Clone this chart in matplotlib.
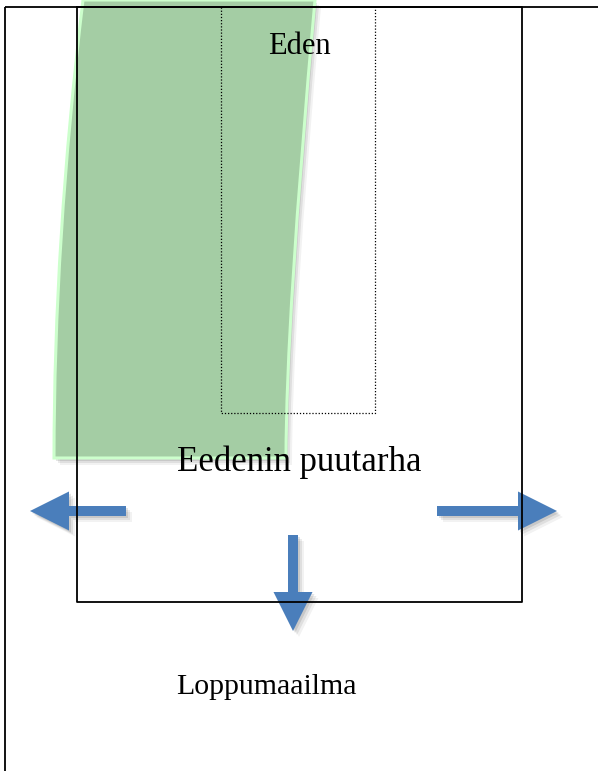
import matplotlib.pyplot as plt
from matplotlib.patches import PathPatch, FancyArrow
from matplotlib.path import Path

# labels of the diagram
labels = ['Eden', 'Eedenin puutarha', 'Loppumaailma']

# green band: top and bottom corners plus curve control points (pixel units)
band_top = [(83, 0), (315, 0)]
band_bottom = [(54, 458), (286, 458)]
band_ctrl = [(54, 240), (286, 320)]

# arrows: tail x, tail y, dx, dy
arrows = [
    (126, 511, -96, 0),
    (437, 511, 120, 0),
    (293, 535, 0, 96),
]

W, H = 598, 771
fig = plt.figure(figsize=(W / 100, H / 100), dpi=100)
ax = fig.add_axes([0, 0, 1, 1])
ax.set_xlim(0, W)
ax.set_ylim(H, 0)
ax.axis('off')


def band_path(dx=0, dy=0):
    (lx0, ly0), (rx0, ry0) = band_top
    (lx1, ly1), (rx1, ry1) = band_bottom
    (lcx, lcy), (rcx, rcy) = band_ctrl
    verts = [(lx0, ly0), (lcx, lcy), (lx1, ly1), (rx1, ry1),
             (rcx, rcy), (rx0, ry0), (lx0, ly0)]
    verts = [(x + dx, y + dy) for x, y in verts]
    codes = [Path.MOVETO, Path.CURVE3, Path.CURVE3, Path.LINETO,
             Path.CURVE3, Path.CURVE3, Path.CLOSEPOLY]
    return Path(verts, codes)


# soft shadow under the band
for off, a in [(2, 0.10), (4, 0.08), (6, 0.05)]:
    ax.add_patch(PathPatch(band_path(off, off + 1), facecolor='black', alpha=a,
                           edgecolor='none', zorder=1))
ax.add_patch(PathPatch(band_path(), facecolor='#a4cda4', edgecolor='#ccffcc',
                       linewidth=2.2, zorder=2))

# blue arrows with soft shadow
for x, y, dx, dy in arrows:
    for off, a in [(2, 0.10), (4, 0.08), (6, 0.05)]:
        ax.add_patch(FancyArrow(x + off, y + off, dx, dy, width=10, head_width=39,
                                head_length=39, length_includes_head=True,
                                facecolor='black', alpha=a, edgecolor='none', zorder=3))
    ax.add_patch(FancyArrow(x, y, dx, dy, width=10, head_width=39,
                            head_length=39, length_includes_head=True,
                            facecolor='#4a7ebb', edgecolor='none', zorder=4))

# outer frame (left and top only visible)
ax.plot([5, 5], [H, 7], color='black', lw=1.3, zorder=5, solid_capstyle='butt')
ax.plot([5, W], [7, 7], color='black', lw=1.3, zorder=5, solid_capstyle='butt')

# garden rectangle
ax.plot([77, 522, 522, 77, 77], [7, 7, 602, 602, 7], color='black', lw=1.3, zorder=5)

# Eden dotted rectangle
ax.plot([221, 221, 375, 375], [7, 413, 413, 7], color='black', lw=0.9,
        linestyle=(0, (1, 1.5)), zorder=5)

font = 'Liberation Serif'
ax.text(299, 46, labels[0], ha='center', va='center', fontsize=22, family=font, zorder=6)
ax.text(299, 462, labels[1], ha='center', va='center', fontsize=25, family=font, zorder=6)
ax.text(266, 687, labels[2], ha='center', va='center', fontsize=21.5, family=font, zorder=6)

fig.savefig('out.png', dpi=100)
